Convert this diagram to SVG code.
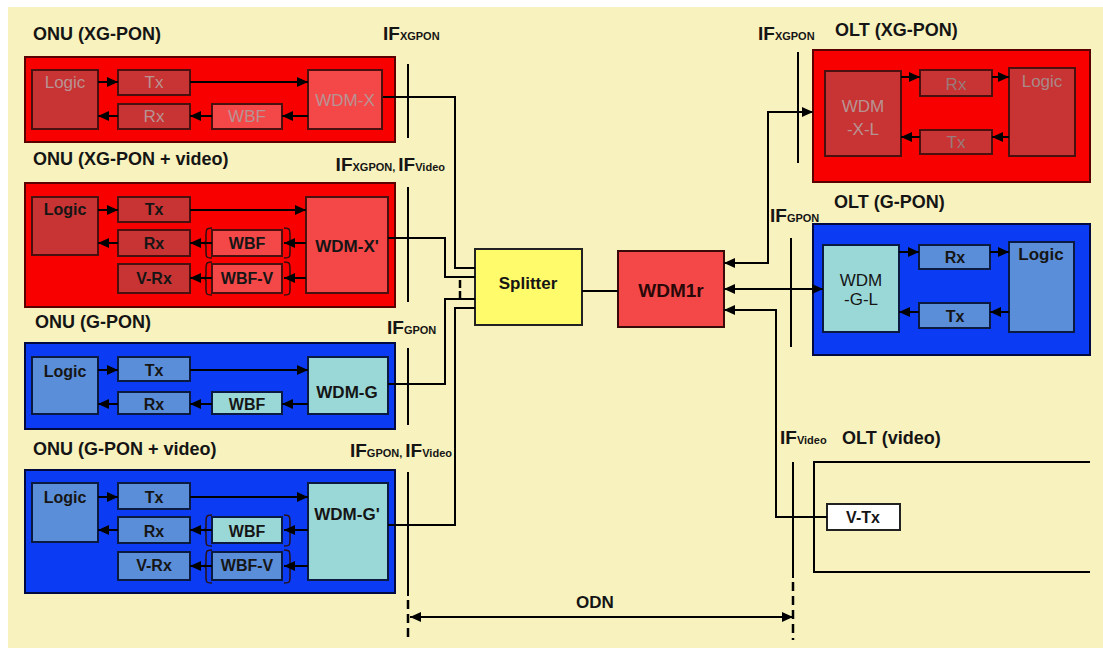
<svg xmlns="http://www.w3.org/2000/svg" width="1103" height="648" viewBox="0 0 1103 648">
<style>
text{font-family:"Liberation Sans",Arial,sans-serif;font-weight:bold;fill:#151515}
.t{font-size:18px}
.b{font-size:16px;text-anchor:middle}
.w{font-size:17px;text-anchor:middle}
.f{font-weight:normal;fill:#b89393}
.if{font-size:19px}
.s{font-size:11px}
.ro{fill:#f80000;stroke:#5a0000;stroke-width:2}
.rd{fill:#c83434;stroke:#4a1010;stroke-width:2}
.rl{fill:#f44848;stroke:#4a1010;stroke-width:2}
.bo{fill:#0b3cf3;stroke:#000a40;stroke-width:2}
.bm{fill:#5b8ed8;stroke:#0a1a40;stroke-width:2}
.bc{fill:#9ad8d8;stroke:#0a1a40;stroke-width:2}
.ln{fill:none;stroke:#000;stroke-width:2}
.ar{fill:none;stroke:#000;stroke-width:2;marker-end:url(#ah)}
.da{fill:none;stroke:#000;stroke-width:2.5;stroke-dasharray:9,5}
.br{fill:none;stroke:#2a1010;stroke-width:1.5}
</style>
<defs>
<marker id="ah" markerUnits="userSpaceOnUse" markerWidth="11" markerHeight="10" refX="11" refY="5" orient="auto-start-reverse">
<path d="M0,0 L11,5 L0,10 z" fill="#000"/>
</marker>
</defs>
<rect width="1103" height="648" fill="#ffffff"/>
<rect x="8" y="7" width="1095" height="641" fill="#f8f3be"/>

<g id="onu-xgpon">
<text class="t" x="33" y="40">ONU (XG-PON)</text>
<rect class="ro" x="25" y="57" width="370" height="85"/>
<rect class="rd" x="32" y="70" width="66" height="59"/>
<rect class="rd" x="118" y="70" width="72" height="25"/>
<rect class="rd" x="118" y="104" width="72" height="25"/>
<rect class="rl" x="212" y="104" width="70" height="25"/>
<rect class="rl" x="308" y="70" width="74" height="59"/>
<text class="w f" x="65" y="88">Logic</text>
<text class="w f" x="154" y="88">Tx</text>
<text class="w f" x="154" y="122">Rx</text>
<text class="w f" x="247" y="122">WBF</text>
<text class="w f" x="345" y="106">WDM-X</text>
<path class="ar" d="M98,82 H118"/>
<path class="ar" d="M190,82 H308"/>
<path class="ar" d="M308,116 H282"/>
<path class="ar" d="M212,116 H190"/>
<path class="ar" d="M118,116 H98"/>
</g>

<g id="onu-xgpon-video">
<text class="t" x="33" y="165">ONU (XG-PON + video)</text>
<rect class="ro" x="25" y="183" width="370" height="124"/>
<rect class="rd" x="32" y="197" width="66" height="58"/>
<rect class="rd" x="118" y="197" width="72" height="25"/>
<rect class="rd" x="118" y="230" width="72" height="26"/>
<rect class="rd" x="118" y="264" width="72" height="29"/>
<rect class="rl" x="212" y="230" width="70" height="26"/>
<rect class="rl" x="212" y="264" width="70" height="29"/>
<rect class="rl" x="306" y="197" width="82" height="96"/>
<path class="br" d="M212,228 C206,228 206,230 206,235 L206,240 C206,243 204,243 203,243 C204,243 206,243 206,246 L206,252 C206,257 206,258 212,258"/>
<path class="br" d="M284,228 C290,228 290,230 290,235 L290,240 C290,243 292,243 293,243 C292,243 290,243 290,246 L290,252 C290,257 290,258 284,258"/>
<path class="br" d="M212,262 C206,262 206,264 206,269 L206,275 C206,278 204,278 203,278 C204,278 206,278 206,281 L206,289 C206,294 206,295 212,295"/>
<path class="br" d="M284,262 C290,262 290,264 290,269 L290,275 C290,278 292,278 293,278 C292,278 290,278 290,281 L290,289 C290,294 290,295 284,295"/>
<text class="b" x="65" y="215">Logic</text>
<text class="b" x="154" y="215">Tx</text>
<text class="b" x="154" y="249">Rx</text>
<text class="b" x="154" y="284">V-Rx</text>
<text class="b" x="247" y="249">WBF</text>
<text class="b" x="247" y="284">WBF-V</text>
<text class="w" x="347" y="252">WDM-X'</text>
<path class="ar" d="M98,210 H118"/>
<path class="ar" d="M190,210 H306"/>
<path class="ar" d="M306,243 H284"/>
<path class="ar" d="M212,243 H190"/>
<path class="ar" d="M118,243 H98"/>
<path class="ar" d="M306,278 H284"/>
<path class="ar" d="M212,278 H190"/>
</g>

<g id="onu-gpon">
<text class="t" x="35" y="328">ONU (G-PON)</text>
<rect class="bo" x="25" y="343" width="370" height="86"/>
<rect class="bm" x="32" y="357" width="66" height="57"/>
<rect class="bm" x="118" y="357" width="72" height="24"/>
<rect class="bm" x="118" y="392" width="72" height="22"/>
<rect class="bc" x="212" y="392" width="70" height="22"/>
<rect class="bc" x="308" y="357" width="80" height="57"/>
<text class="b" x="65" y="377">Logic</text>
<text class="b" x="154" y="376">Tx</text>
<text class="b" x="154" y="410">Rx</text>
<text class="b" x="247" y="410">WBF</text>
<text class="w" x="347" y="398">WDM-G</text>
<path class="ar" d="M98,370 H118"/>
<path class="ar" d="M190,370 H308"/>
<path class="ar" d="M308,404 H282"/>
<path class="ar" d="M212,404 H190"/>
<path class="ar" d="M118,404 H98"/>
</g>

<g id="onu-gpon-video">
<text class="t" x="33" y="455">ONU (G-PON + video)</text>
<rect class="bo" x="25" y="470" width="370" height="123"/>
<rect class="bm" x="32" y="483" width="66" height="59"/>
<rect class="bm" x="118" y="483" width="72" height="26"/>
<rect class="bm" x="118" y="517" width="72" height="26"/>
<rect class="bm" x="118" y="552" width="72" height="28"/>
<rect class="bc" x="212" y="517" width="70" height="26"/>
<rect class="bm" x="212" y="552" width="70" height="28"/>
<rect class="bc" x="308" y="483" width="80" height="97"/>
<path class="br" d="M212,515 C206,515 206,517 206,522 L206,527 C206,530 204,530 203,530 C204,530 206,530 206,533 L206,540 C206,545 206,546 212,546"/>
<path class="br" d="M284,515 C290,515 290,517 290,522 L290,527 C290,530 292,530 293,530 C292,530 290,530 290,533 L290,540 C290,545 290,546 284,546"/>
<path class="br" d="M212,550 C206,550 206,552 206,557 L206,563 C206,566 204,566 203,566 C204,566 206,566 206,569 L206,577 C206,582 206,583 212,583"/>
<path class="br" d="M284,550 C290,550 290,552 290,557 L290,563 C290,566 292,566 293,566 C292,566 290,566 290,569 L290,577 C290,582 290,583 284,583"/>
<text class="b" x="65" y="503">Logic</text>
<text class="b" x="154" y="503">Tx</text>
<text class="b" x="154" y="537">Rx</text>
<text class="b" x="154" y="571">V-Rx</text>
<text class="b" x="247" y="537">WBF</text>
<text class="b" x="247" y="571">WBF-V</text>
<text class="w" x="347" y="520">WDM-G'</text>
<path class="ar" d="M98,497 H118"/>
<path class="ar" d="M190,497 H308"/>
<path class="ar" d="M308,530 H284"/>
<path class="ar" d="M212,530 H190"/>
<path class="ar" d="M118,530 H98"/>
<path class="ar" d="M308,566 H284"/>
<path class="ar" d="M212,566 H190"/>
</g>

<g id="splitter">
<rect x="475" y="249" width="107" height="76" fill="#fffb6a" stroke="#222" stroke-width="2"/>
<text class="w" x="528" y="289">Splitter</text>
</g>

<g id="wdm1r">
<rect x="618" y="251" width="106" height="76" fill="#f44848" stroke="#3a0a0a" stroke-width="2"/>
<text class="w" x="671" y="297" style="font-size:19px;fill:#2a0808">WDM1r</text>
</g>

<g id="olt-xgpon">
<text class="t" x="835" y="36">OLT (XG-PON)</text>
<rect class="ro" x="813" y="50" width="277" height="132"/>
<rect class="rd" x="825" y="71" width="76" height="85"/>
<rect class="rd" x="920" y="70" width="72" height="26"/>
<rect class="rd" x="920" y="130" width="72" height="24"/>
<rect class="rd" x="1009" y="68" width="66" height="88"/>
<text class="w f" x="863" y="112">WDM</text>
<text class="w f" x="863" y="135">-X-L</text>
<text class="w f" x="956" y="90" style="fill:#9a7a7a">Rx</text>
<text class="w f" x="956" y="148" style="fill:#9a7a7a">Tx</text>
<text class="w f" x="1042" y="87" style="fill:#a88888">Logic</text>
<path class="ar" d="M901,77 H920"/>
<path class="ar" d="M992,77 H1009"/>
<path class="ar" d="M1009,137 H992"/>
<path class="ar" d="M920,137 H901"/>
</g>

<g id="olt-gpon">
<text class="t" x="834" y="208">OLT (G-PON)</text>
<rect class="bo" x="813" y="224" width="277" height="131"/>
<rect class="bc" x="823" y="245" width="76" height="87"/>
<rect class="bm" x="919" y="245" width="71" height="24"/>
<rect class="bm" x="919" y="303" width="71" height="25"/>
<rect class="bm" x="1009" y="242" width="65" height="90"/>
<text class="w" x="861" y="286" style="font-weight:normal">WDM</text>
<text class="w" x="861" y="305" style="font-weight:normal">-G-L</text>
<text class="b" x="955" y="263">Rx</text>
<text class="b" x="955" y="322">Tx</text>
<text class="w" x="1041" y="260">Logic</text>
<path class="ar" d="M899,252 H919"/>
<path class="ar" d="M990,252 H1009"/>
<path class="ar" d="M1009,312 H990"/>
<path class="ar" d="M919,312 H899"/>
</g>

<g id="olt-video">
<text class="t" x="842" y="444">OLT (video)</text>
<path class="ln" d="M1090,462 H814 V572 H1090"/>
<rect x="827" y="504" width="73" height="26" fill="#ffffff" stroke="#222" stroke-width="2"/>
<text class="b" x="863" y="523">V-Tx</text>
</g>

<g id="interfaces">
<text x="383" y="40"><tspan class="if">IF</tspan><tspan class="s">XGPON</tspan></text>
<text x="445" y="171" text-anchor="end"><tspan class="if">IF</tspan><tspan class="s">XGPON, </tspan><tspan class="if">IF</tspan><tspan class="s">Video</tspan></text>
<text x="387" y="334"><tspan class="if">IF</tspan><tspan class="s">GPON</tspan></text>
<text x="452" y="457" text-anchor="end"><tspan class="if">IF</tspan><tspan class="s">GPON, </tspan><tspan class="if">IF</tspan><tspan class="s">Video</tspan></text>
<text x="758" y="40"><tspan class="if">IF</tspan><tspan class="s">XGPON</tspan></text>
<text x="770" y="222"><tspan class="if">IF</tspan><tspan class="s">GPON</tspan></text>
<text x="780" y="444"><tspan class="if">IF</tspan><tspan class="s">Video</tspan></text>
<text class="w" x="595" y="608">ODN</text>
</g>

<g id="connectors">
<path class="ln" d="M408,64 V138"/>
<path class="ln" d="M408,187 V302"/>
<path class="ln" d="M408,348 V425"/>
<path class="ln" d="M408,472 V596"/>
<path class="da" d="M408,600 V640"/>
<path class="ln" d="M798,52 V163"/>
<path class="ln" d="M791,238 V347"/>
<path class="ln" d="M793,462 V578"/>
<path class="da" d="M793,582 V640"/>
<path class="da" d="M460,280 V298" style="stroke-dasharray:8,3"/>
<path class="ln" d="M383,97 H455 V268 H475"/>
<path class="ln" d="M388,238 H445 V277 H475"/>
<path class="ln" d="M388,384 H445 V299 H475"/>
<path class="ln" d="M388,525 H455 V308 H475"/>
<path class="ln" d="M582,291 H618"/>
<path class="ar" d="M813,112 H768 V263 H724" style="marker-start:url(#ah)"/>
<path class="ar" d="M823,289 H724" style="marker-start:url(#ah)"/>
<path class="ar" d="M827,517 H776 V310 H724"/>
<path class="ar" d="M410,617 H793" style="marker-start:url(#ah)"/>
</g>
</svg>
